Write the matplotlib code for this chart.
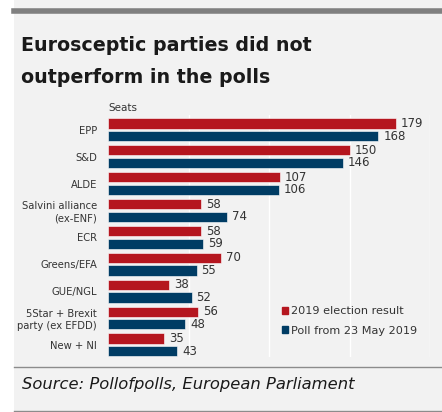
"""
Eurosceptic parties vs polls: 2019 EP election seats against the last poll.
"""

import matplotlib
matplotlib.use("Agg")
import matplotlib.pyplot as plt
from matplotlib.patches import Rectangle, Patch
from matplotlib.lines import Line2D
import numpy as np

parties = ["EPP", "S&D", "ALDE", "Salvini alliance\n(ex-ENF)", "ECR",
           "Greens/EFA", "GUE/NGL", "5Star + Brexit\nparty (ex EFDD)", "New + NI"]
election_2019 = [179, 150, 107, 58, 58, 70, 38, 56, 35]
poll_23may = [168, 146, 106, 74, 59, 55, 52, 48, 43]
series_names = ["2019 election result", "Poll from 23 May 2019"]

RED = "#b5161f"
BLUE = "#003c64"
BG = "#f2f2f2"


def main():
    fig = plt.figure(figsize=(4.42, 4.12), dpi=100)
    fig.patch.set_facecolor("white")

    # grey panel + rules
    fig.patches.append(Rectangle((14 / 442, 0), 1, 1, transform=fig.transFigure,
                                 facecolor=BG, edgecolor="none", zorder=-5))
    fig.add_artist(Line2D([14 / 442, 1], [1 - 11 / 412] * 2, color="#808080", lw=4))
    fig.add_artist(Line2D([14 / 442, 1], [1 - 367 / 412] * 2, color="#8c8c8c", lw=1))
    fig.add_artist(Line2D([14 / 442, 1], [1 - 411 / 412] * 2, color="#8c8c8c", lw=1))

    # title, two lines placed on their baselines
    fig.text(21 / 442, 1 - 51 / 412, "Eurosceptic parties did not",
             fontsize=13.7, fontweight="bold", color="#1a1a1a", va="baseline", ha="left")
    fig.text(21 / 442, 1 - 83 / 412, "outperform in the polls",
             fontsize=13.7, fontweight="bold", color="#1a1a1a", va="baseline", ha="left")
    fig.text(22 / 442, 1 - 385 / 412, "Source: Pollofpolls, European Parliament",
             fontsize=11.8, style="italic", color="#1a1a1a", va="center", ha="left")

    ax = fig.add_axes([108 / 442, 1 - 357 / 412, 322 / 442, 242 / 412])
    ax.set_facecolor(BG)
    y = np.arange(len(parties))
    h = 0.38
    off = 0.235
    ax.barh(y - off, election_2019, height=h, color=RED, edgecolor="white", lw=0.4, zorder=3)
    ax.barh(y + off, poll_23may, height=h, color=BLUE, edgecolor="white", lw=0.4, zorder=3)
    for yi, v in zip(y, election_2019):
        ax.text(v + 3, yi - off, str(v), va="center", ha="left", fontsize=8.5, color="#333333")
    for yi, v in zip(y, poll_23may):
        ax.text(v + 3, yi + off, str(v), va="center", ha="left", fontsize=8.5, color="#333333")

    ax.set_xlim(0, 200)
    ax.set_ylim(8.45, -0.55)
    ax.set_xticks([50, 100, 150, 200])
    ax.xaxis.grid(True, color="white", lw=1, zorder=0)
    ax.tick_params(axis="x", length=0, labelbottom=False)
    ax.tick_params(axis="y", length=0, pad=8, labelsize=7.2, labelcolor="#333333")
    ax.set_yticks(y)
    ax.set_yticklabels(parties, linespacing=1.3)
    for s in ax.spines.values():
        s.set_visible(False)
    ax.text(0, -0.8, "Seats", fontsize=7.5, color="#333333", va="center", ha="left")

    handles = [Patch(color=RED), Patch(color=BLUE)]
    ax.legend(handles, series_names, loc="upper left",
              bbox_to_anchor=((277 - 108) / 322, (357 - 302) / 242),
              frameon=False, fontsize=8.1, handlelength=0.6, handleheight=0.6,
              handletextpad=0.25, labelspacing=0.8, borderaxespad=0,
              labelcolor="#333333")

    plt.savefig("out.png", dpi=100, facecolor=fig.get_facecolor())
    plt.close()


if __name__ == "__main__":
    main()
